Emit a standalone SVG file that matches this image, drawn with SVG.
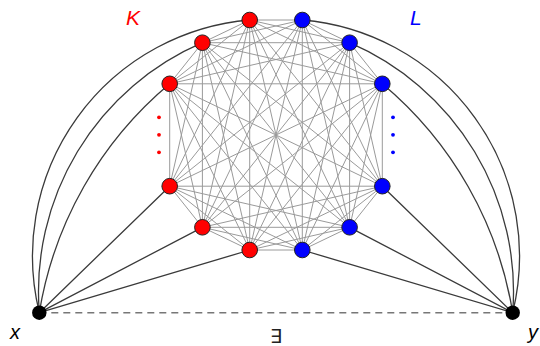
<svg xmlns="http://www.w3.org/2000/svg" width="540" height="346" viewBox="0 0 540 346">
<defs>
<style>
.k{fill:none;stroke:#9a9a9a;stroke-width:1}
.b{fill:none;stroke:#3a3a3a;stroke-width:1.3}
.d{fill:none;stroke:#777;stroke-width:1.5;stroke-dasharray:7 5}
.r{fill:#ff0000;stroke:#222;stroke-width:1}
.u{fill:#0000ff;stroke:#222;stroke-width:1}
.t{fill:#000;stroke:none}
.lab{font-family:"Liberation Sans",Arial,sans-serif;font-style:italic}
</style>
</defs>
<rect width="540" height="346" fill="#fff"/>
<g id="connectors">
<g id="clique">
<path class="k" d="M249.7 20L202.4 42.7M249.7 20L169.7 83.8M249.7 20L169.7 186.2M249.7 20L202.4 227.3M249.7 20L249.7 250M249.7 20L302.3 20M249.7 20L349.6 42.7M249.7 20L382.3 83.8M249.7 20L382.3 186.2M249.7 20L349.6 227.3M249.7 20L302.3 250"/>
<path class="k" d="M202.4 42.7L169.7 83.8M202.4 42.7L169.7 186.2M202.4 42.7L202.4 227.3M202.4 42.7L249.7 250M202.4 42.7L302.3 20M202.4 42.7L349.6 42.7M202.4 42.7L382.3 83.8M202.4 42.7L382.3 186.2M202.4 42.7L349.6 227.3M202.4 42.7L302.3 250"/>
<path class="k" d="M169.7 83.8L169.7 186.2M169.7 83.8L202.4 227.3M169.7 83.8L249.7 250M169.7 83.8L302.3 20M169.7 83.8L349.6 42.7M169.7 83.8L382.3 83.8M169.7 83.8L382.3 186.2M169.7 83.8L349.6 227.3M169.7 83.8L302.3 250"/>
<path class="k" d="M169.7 186.2L202.4 227.3M169.7 186.2L249.7 250M169.7 186.2L302.3 20M169.7 186.2L349.6 42.7M169.7 186.2L382.3 83.8M169.7 186.2L382.3 186.2M169.7 186.2L349.6 227.3M169.7 186.2L302.3 250"/>
<path class="k" d="M202.4 227.3L249.7 250M202.4 227.3L302.3 20M202.4 227.3L349.6 42.7M202.4 227.3L382.3 83.8M202.4 227.3L382.3 186.2M202.4 227.3L349.6 227.3M202.4 227.3L302.3 250"/>
<path class="k" d="M249.7 250L302.3 20M249.7 250L349.6 42.7M249.7 250L382.3 83.8M249.7 250L382.3 186.2M249.7 250L349.6 227.3M249.7 250L302.3 250"/>
<path class="k" d="M302.3 20L349.6 42.7M302.3 20L382.3 83.8M302.3 20L382.3 186.2M302.3 20L349.6 227.3M302.3 20L302.3 250"/>
<path class="k" d="M349.6 42.7L382.3 83.8M349.6 42.7L382.3 186.2M349.6 42.7L349.6 227.3M349.6 42.7L302.3 250"/>
<path class="k" d="M382.3 83.8L382.3 186.2M382.3 83.8L349.6 227.3M382.3 83.8L302.3 250"/>
<path class="k" d="M382.3 186.2L349.6 227.3M382.3 186.2L302.3 250"/>
<path class="k" d="M349.6 227.3L302.3 250"/>
</g>
<g id="x-edges">
<path class="b" d="M39.3 312.7A237 237 0 0 1 249.7 20"/>
<path class="b" d="M39.3 312.7A271 271 0 0 1 202.4 42.7"/>
<path class="b" d="M39.3 312.7A378 378 0 0 1 169.7 83.8"/>
<path class="b" d="M39.3 312.7L169.7 186.2M39.3 312.7L202.4 227.3M39.3 312.7L249.7 250"/>
</g>
<g id="y-edges">
<path class="b" d="M512.7 312.7A237 237 0 0 0 302.3 20"/>
<path class="b" d="M512.7 312.7A271 271 0 0 0 349.6 42.7"/>
<path class="b" d="M512.7 312.7A378 378 0 0 0 382.3 83.8"/>
<path class="b" d="M512.7 312.7L382.3 186.2M512.7 312.7L349.6 227.3M512.7 312.7L302.3 250"/>
</g>
<path id="xy-dashed" class="d" d="M39.3 312.7L512.7 312.7"/>
</g>
<g id="K">
<g id="r1"><circle class="r" cx="249.7" cy="20" r="7.8"/></g>
<g id="r2"><circle class="r" cx="202.4" cy="42.7" r="7.8"/></g>
<g id="r3"><circle class="r" cx="169.7" cy="83.8" r="7.8"/></g>
<g id="r4"><circle class="r" cx="169.7" cy="186.2" r="7.8"/></g>
<g id="r5"><circle class="r" cx="202.4" cy="227.3" r="7.8"/></g>
<g id="r6"><circle class="r" cx="249.7" cy="250" r="7.8"/></g>
<g id="r-dots" fill="#ff0000"><circle cx="159" cy="117.3" r="1.9"/><circle cx="159" cy="134.8" r="1.9"/><circle cx="159" cy="152.3" r="1.9"/></g>
<text class="lab" x="126" y="25" font-size="21" fill="#ff0000">K</text>
</g>
<g id="L">
<g id="b1"><circle class="u" cx="302.3" cy="20" r="7.8"/></g>
<g id="b2"><circle class="u" cx="349.6" cy="42.7" r="7.8"/></g>
<g id="b3"><circle class="u" cx="382.3" cy="83.8" r="7.8"/></g>
<g id="b4"><circle class="u" cx="382.3" cy="186.2" r="7.8"/></g>
<g id="b5"><circle class="u" cx="349.6" cy="227.3" r="7.8"/></g>
<g id="b6"><circle class="u" cx="302.3" cy="250" r="7.8"/></g>
<g id="b-dots" fill="#0000ff"><circle cx="393" cy="117.3" r="1.9"/><circle cx="393" cy="134.8" r="1.9"/><circle cx="393" cy="152.3" r="1.9"/></g>
<text class="lab" x="410" y="25" font-size="21" fill="#0000ff">L</text>
</g>
<g id="x"><circle class="t" cx="39.3" cy="312.7" r="7.2"/><text class="lab" x="10" y="339" font-size="20" fill="#000">x</text></g>
<g id="y"><circle class="t" cx="512.7" cy="312.7" r="7.2"/><text class="lab" x="528" y="339" font-size="20" fill="#000">y</text></g>
<text id="exists" x="276" y="343" font-size="19" text-anchor="middle" font-family="DejaVu Sans, sans-serif" fill="#222">∃</text>
</svg>
